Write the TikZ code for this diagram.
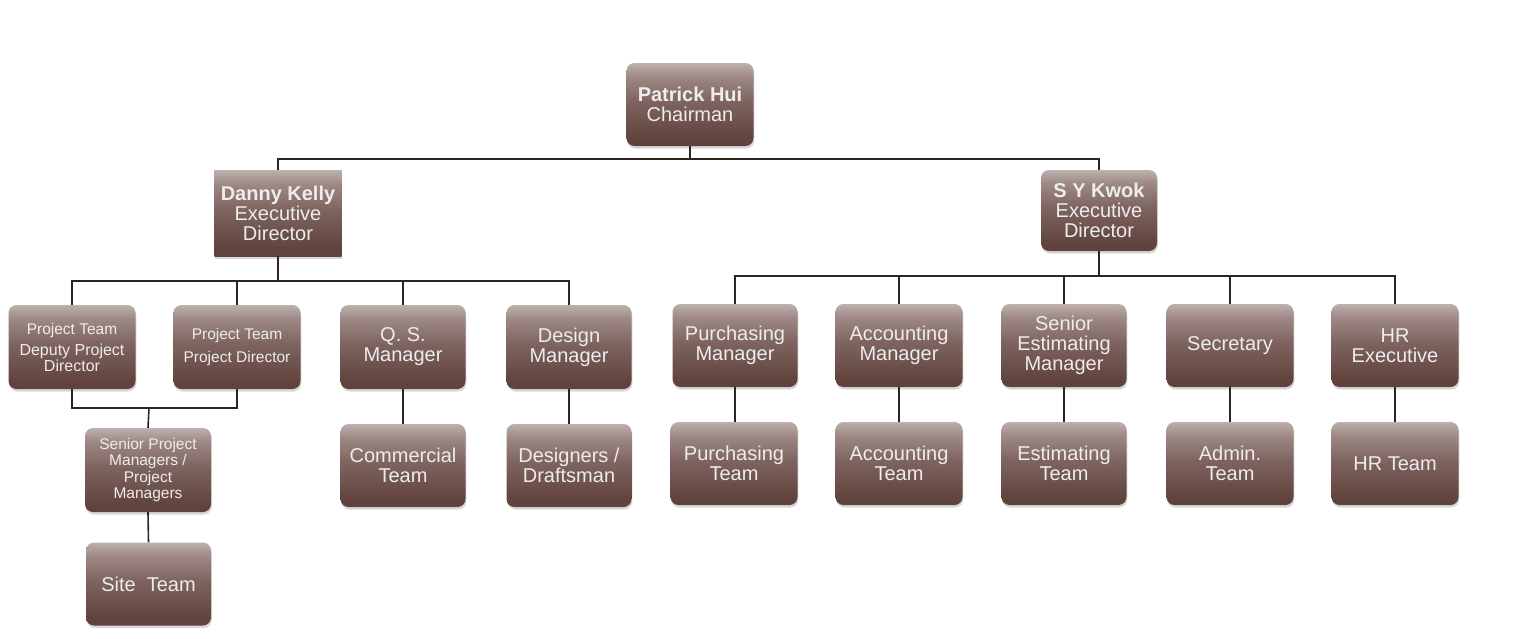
\documentclass[tikz,border=0pt]{standalone}
\usepackage{fontspec}
\setmainfont{Liberation Sans}
\usetikzlibrary{shadows}
\definecolor{gA}{HTML}{593A33}
\definecolor{gA2}{HTML}{62443E}
\definecolor{gB}{HTML}{7E645F}
\definecolor{gB2}{HTML}{9E8985}
\definecolor{gC}{HTML}{C1B5B4}
\definecolor{gD}{HTML}{D2CBCB}
\definecolor{gE}{HTML}{D8D2D2}
\definecolor{txt}{HTML}{EEECEC}
\definecolor{ln}{HTML}{2E2424}
\pgfdeclareverticalshading{boxgrad}{100bp}{color(0bp)=(gA); color(12bp)=(gA); color(30bp)=(gA2); color(52bp)=(gB); color(67bp)=(gB2); color(76bp)=(gC); color(83bp)=(gD); color(100bp)=(gE)}
\tikzset{
  orgbox/.style={shading=boxgrad, rounded corners=8pt, minimum width=127pt, minimum height=84pt,
    inner sep=2pt, align=center, text=txt, font=\fontsize{20}{20}\selectfont,
    drop shadow={shadow xshift=0.8pt, shadow yshift=-2.5pt, opacity=0.22, fill=black!70}},
  conn/.style={draw=ln, line width=1.6pt},
  sm/.style={font=\fontsize{15.5}{16.5}\selectfont}
}
\newcommand{\smtext}[1]{{\fontsize{15.5}{17}\selectfont #1}}
\begin{document}
\begin{tikzpicture}[x=1pt,y=-1pt]
\useasboundingbox (0,0) rectangle (1514,638);
% level 0
\node[orgbox, minimum width=127pt, minimum height=83pt] (P) at (690,104.5) {\textbf{Patrick Hui}\\Chairman};
% level 1
\node[orgbox, rounded corners=0pt, minimum width=127pt, minimum height=86pt] (D) at (278,213) {\textbf{Danny Kelly}\\Executive\\Director};
\node[orgbox, minimum width=116pt, minimum height=81pt] (K) at (1099,210.5) {\textbf{S Y Kwok}\\Executive\\Director};
% level 2 (Danny)
\node[orgbox, font=\fontsize{16}{16}\selectfont] (DP) at (72,347) {\smtext{Project Team}\\[5pt]Deputy Project\\Director};
\node[orgbox, font=\fontsize{15.5}{17}\selectfont] (PD) at (237,347) {Project Team\\[6pt]Project Director};
\node[orgbox, minimum width=125pt] (QS) at (403,347) {Q. S.\\Manager};
\node[orgbox, minimum width=125pt] (DM) at (569,347) {Design\\Manager};
% level 2 (Kwok)
\node[orgbox, minimum width=125pt, minimum height=83pt] (PM) at (735,345.5) {Purchasing\\Manager};
\node[orgbox, minimum height=83pt] (AM) at (899,345.5) {Accounting\\Manager};
\node[orgbox, minimum width=125pt, minimum height=83pt] (SE) at (1064,345.5) {Senior\\Estimating\\Manager};
\node[orgbox, minimum height=83pt] (SC) at (1230,345.5) {Secretary};
\node[orgbox, minimum height=83pt] (HE) at (1395,345.5) {HR\\Executive};
% level 3
\node[orgbox, minimum width=126pt, minimum height=84pt, font=\fontsize{15.5}{16.4}\selectfont] (SPM) at (148,470) {Senior Project\\Managers /\\Project\\Managers};
\node[orgbox, minimum width=125pt, minimum height=83pt] (ST) at (148.5,584) {Site\ \ Team};
\node[orgbox, minimum width=125pt, minimum height=83pt] (CT) at (403,465.5) {Commercial\\Team};
\node[orgbox, minimum width=125pt, minimum height=83pt] (DT) at (569,465.5) {Designers /\\Draftsman};
\node[orgbox, minimum height=83pt] (PT) at (734,463.5) {Purchasing\\Team};
\node[orgbox, minimum height=83pt] (AT) at (899,463.5) {Accounting\\Team};
\node[orgbox, minimum width=125pt, minimum height=83pt] (ET) at (1064,463.5) {Estimating\\Team};
\node[orgbox, minimum height=83pt] (AD) at (1230,463.5) {Admin.\\Team};
\node[orgbox, minimum height=83pt] (HT) at (1395,463.5) {HR Team};
% buses
\coordinate (b1) at (690,159);
\coordinate (b2) at (278,281);
\coordinate (b3) at (1099,276);
\coordinate (b4) at (149,408);
\draw[conn] (P.south) -- (b1);
\draw[conn] (D.north) |- (b1) -| (K.north);
\draw[conn] (D.south) -- (b2);
\draw[conn] (DP.north) |- (b2) -| (DM.north);
\draw[conn] (PD.north) -- (PD.north |- b2);
\draw[conn] (QS.north) -- (QS.north |- b2);
\draw[conn] (K.south) -- (b3);
\draw[conn] (PM.north) |- (b3) -| (HE.north);
\draw[conn] (AM.north) -- (AM.north |- b3);
\draw[conn] (SE.north) -- (SE.north |- b3);
\draw[conn] (SC.north) -- (SC.north |- b3);
\draw[conn] (DP.south) |- (b4) -| (PD.south);
\draw[conn] (b4) -- (SPM.north);
\draw[conn] (SPM.south) -- (ST.north);
\draw[conn] (QS.south) -- (CT.north);
\draw[conn] (DM.south) -- (DT.north);
\draw[conn] (PM.south) -- (PM.south |- PT.north);
\draw[conn] (AM.south) -- (AT.north);
\draw[conn] (SE.south) -- (ET.north);
\draw[conn] (SC.south) -- (AD.north);
\draw[conn] (HE.south) -- (HT.north);
\end{tikzpicture}
\end{document}
